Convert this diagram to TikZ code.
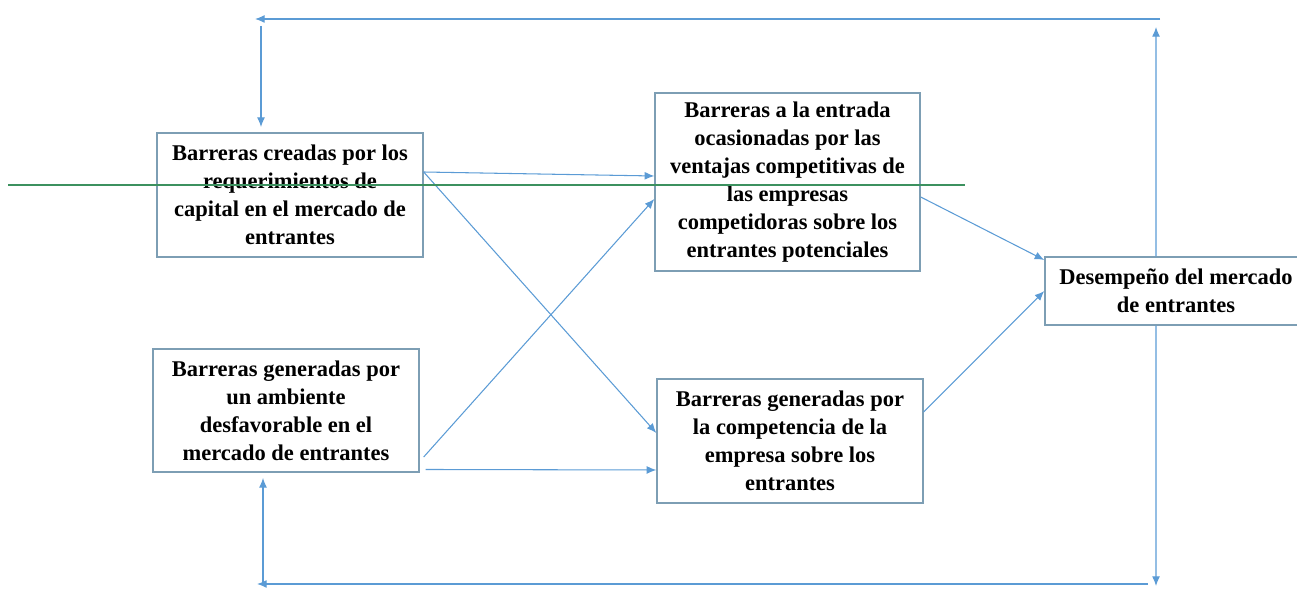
\documentclass[tikz,border=0pt]{standalone}
\usepackage{fontspec}
\setmainfont{Liberation Serif}
\usetikzlibrary{arrows.meta}
\definecolor{azulflecha}{RGB}{91,155,213}
\definecolor{bordecaja}{RGB}{125,158,180}
\definecolor{verdelinea}{RGB}{60,145,95}

\begin{document}
\begin{tikzpicture}[x=0.02cm, y=0.02cm,
  caja/.style={draw=bordecaja, line width=0.8pt, align=center, inner sep=0pt,
    font=\fontsize{12.8}{15.9}\selectfont\bfseries},
  flecha/.style={draw=azulflecha, line width=0.6pt, -{Latex[length=5.5pt,width=4.5pt]}}]
  \useasboundingbox (0,0) rectangle (1297,588);
  \node[caja, minimum width=5.32cm, minimum height=2.48cm] (capital) at (290,393)
    {Barreras creadas por los\\ requerimientos de\\ capital en el mercado de\\ entrantes};
  \node[caja, minimum width=5.3cm, minimum height=3.56cm] (ventajas) at (787.5,406)
    {Barreras a la entrada\\ ocasionadas por las\\ ventajas competitivas de\\ las empresas\\
     competidoras sobre los\\ entrantes potenciales};
  \node[caja, minimum width=5.32cm, minimum height=2.46cm] (ambiente) at (286,177.5)
    {Barreras generadas por\\ un ambiente\\ desfavorable en el\\ mercado de entrantes};
  \node[caja, minimum width=5.32cm, minimum height=2.48cm] (competencia) at (790,147)
    {Barreras generadas por\\ la competencia de la\\ empresa sobre los\\ entrantes};
  \node[caja, minimum width=5.24cm, minimum height=1.36cm] (desempeno) at (1176,297)
    {Desempeño del mercado\\ de entrantes};

  \draw[flecha] ([yshift=0.46cm]capital.east) -- ([yshift=0.12cm]ventajas.west);
  \draw[flecha] ([yshift=0.46cm]capital.east) -- ([yshift=0.16cm]competencia.west);
  \draw[flecha] ([xshift=0.08cm, yshift=-0.93cm]ambiente.east) -- ([yshift=-0.34cm]ventajas.west);
  \draw[flecha] ([xshift=0.12cm, yshift=-1.18cm]ambiente.east) -- ([yshift=-0.58cm]competencia.west);
  \draw[flecha] ([yshift=-0.3cm]ventajas.east) -- ([yshift=0.62cm]desempeno.west);
  \draw[flecha] ([yshift=0.58cm]competencia.east) -- (desempeno.west);

  \coordinate (topeE) at (1156,561);
  \coordinate (esqD) at (1160,569);
  \coordinate (esqI) at (255,569);
  \coordinate (inicioA) at (261,562);
  \draw[flecha] ([xshift=-0.4cm]desempeno.north) -- (topeE);
  \draw[flecha] (esqD) -- (esqI);
  \draw[flecha, shorten >=3pt] (inicioA) -- (capital.north -| inicioA);

  \coordinate (pieE) at (1156,2);
  \coordinate (bajoD) at (1148,4);
  \coordinate (bajoI) at (257,4);
  \coordinate (inicioC) at (263,3);
  \draw[flecha] ([xshift=-0.4cm]desempeno.south) -- (pieE);
  \draw[flecha] (bajoD) -- (bajoI);
  \draw[flecha, shorten >=3pt] (inicioC) -- (ambiente.south -| inicioC);

  \draw[verdelinea, line width=1.4pt] (8,403) -- (965,403);
\end{tikzpicture}
\end{document}
